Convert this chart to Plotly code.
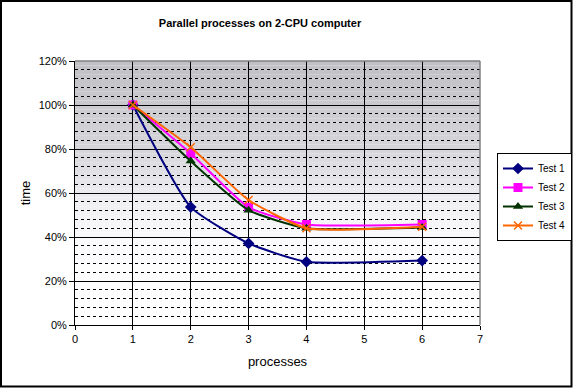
import plotly.graph_objects as go

processes = [1, 2, 3, 4, 6]
test1 = [1.00, 0.536, 0.371, 0.287, 0.293]
test2 = [1.00, 0.780, 0.535, 0.457, 0.457]
test3 = [1.00, 0.745, 0.522, 0.440, 0.443]
test4 = [1.00, 0.808, 0.568, 0.440, 0.447]

series = [
    ("Test 1", test1, "#000080", "diamond", 9),
    ("Test 2", test2, "#FF00FF", "square", 9),
    ("Test 3", test3, "#003300", "triangle-up", 9),
    ("Test 4", test4, "#FF6600", "x-thin", 8),
]

W, H = 573, 388
L, R, T, B = 75, 480, 61, 325
pw, ph = R - L, B - T

def px(x):
    return (x - L) / pw

def py(y):
    return (B - y) / ph

fig = go.Figure()
for name, vals, color, sym, size in series:
    mk = dict(symbol=sym, size=size, color=color)
    if sym == "x-thin":
        mk["line"] = dict(color=color, width=1.5)
    fig.add_trace(go.Scatter(
        x=processes, y=vals, name=name, mode="lines+markers",
        line=dict(color=color, width=2, shape="spline", smoothing=0.5),
        marker=mk,
    ))

# background gradient strips (below gridlines)
stops = [(0.0, (255, 255, 255)), (0.4, (250, 250, 252)), (0.6, (236, 236, 240)),
         (0.8, (214, 214, 218)), (1.2, (192, 192, 196))]

def col(v):
    for (a, ca), (b, cb) in zip(stops[:-1], stops[1:]):
        if a <= v <= b:
            t = (v - a) / (b - a)
            c = [round(ca[i] + (cb[i] - ca[i]) * t) for i in range(3)]
            return "rgb(%d,%d,%d)" % tuple(c)
    return "white"

shapes = []
n = 60
for i in range(n):
    y0 = 1.2 * i / n
    y1 = 1.2 * (i + 1) / n
    shapes.append(dict(type="rect", xref="x", yref="y", x0=0, x1=7, y0=y0, y1=y1,
                       fillcolor=col((y0 + y1) / 2), line=dict(width=0), layer="below"))
# gray top/right border of plot area
shapes.append(dict(type="line", xref="paper", yref="paper", x0=0, x1=1, y0=1, y1=1,
                   line=dict(color="#808080", width=1.5)))
shapes.append(dict(type="line", xref="paper", yref="paper", x0=1, x1=1, y0=0, y1=1,
                   line=dict(color="#808080", width=1.5)))
# outer chart frame
shapes.append(dict(type="rect", xref="paper", yref="paper",
                   x0=px(1), x1=px(571.5), y0=py(386.5), y1=py(1),
                   line=dict(color="black", width=2), fillcolor="rgba(0,0,0,0)"))

fig.update_layout(
    width=W, height=H,
    margin=dict(l=L, r=W - R, t=T, b=H - B, pad=0, autoexpand=False),
    paper_bgcolor="white", plot_bgcolor="white",
    font=dict(family="Liberation Sans, Arial, sans-serif", size=11, color="black"),
    title=dict(text="<b>Parallel processes on 2-CPU computer</b>",
               x=px(260), xref="paper", xanchor="center",
               y=1 - 23 / H, yanchor="middle", font=dict(size=11)),
    shapes=shapes,
    showlegend=True,
    legend=dict(x=px(497), y=py(153), xanchor="left", yanchor="top",
                bgcolor="white", bordercolor="black", borderwidth=1,
                font=dict(size=10), tracegroupgap=0, itemwidth=30),
)
fig.update_xaxes(range=[0, 7], dtick=1, tick0=0, showgrid=True, gridcolor="black", gridwidth=1,
                 showline=True, linecolor="black", linewidth=1, ticks="outside", ticklen=4,
                 tickcolor="black", zeroline=False, automargin=False,
                 title=dict(text="processes", standoff=12))
fig.update_yaxes(range=[0, 1.2], dtick=0.2, tick0=0, tickformat=".0%",
                 showgrid=True, gridcolor="black", gridwidth=1,
                 minor=dict(dtick=0.04, showgrid=True, gridcolor="black", griddash="3px,3px",
                            gridwidth=1, ticks=""),
                 showline=True, linecolor="black", linewidth=1, ticks="outside", ticklen=5,
                 tickcolor="black", zeroline=False, automargin=False,
                 title=dict(text="time", standoff=5))

fig.write_html("out.html", config={"displayModeBar": False},
               post_script="document.body.style.margin='0';document.body.style.overflow='hidden';")
